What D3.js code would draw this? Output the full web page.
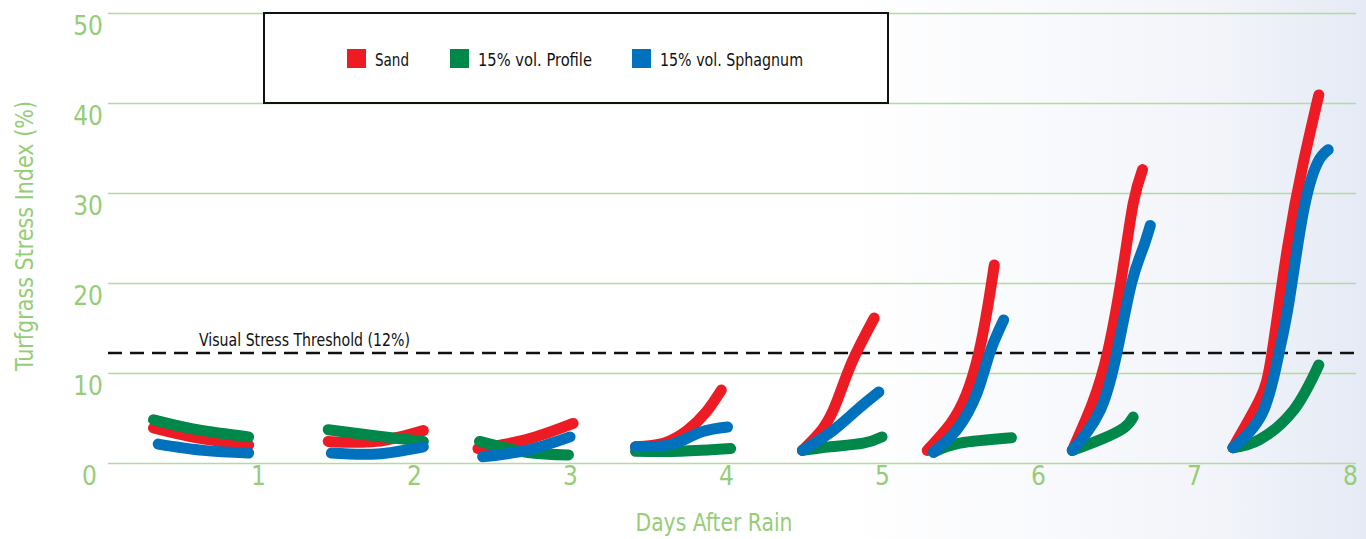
<!DOCTYPE html>
<html><head><meta charset="utf-8">
<script src="https://cdn.jsdelivr.net/npm/d3@7"></script>
<style>
html,body{margin:0;padding:0;background:#fff;}
svg{display:block;}
text{font-family:"Liberation Sans Narrow","DejaVu Sans Condensed","Open Sans",sans-serif;}
</style></head>
<body>
<svg id="chart" width="1366" height="539"></svg>
<script>
// ---- data ----
const seriesNames = ["Sand", "15% vol. Profile", "15% vol. Sphagnum"];
const seriesColors = ["#ed1c24", "#00874a", "#0071bc"];
const xTicks = [1, 2, 3, 4, 5, 6, 7, 8];
const yTicks = [0, 10, 20, 30, 40, 50];
const threshold = 12;
const thresholdLabel = "Visual Stress Threshold (12%)";
const xTitle = "Days After Rain";
const yTitle = "Turfgrass Stress Index (%)";

// each series: one short curve per day, points [day, stress index %]
const sandSegments = [
  [[0.33, 3.9], [0.61, 2.8], [0.94, 2.0]],
  [[1.45, 2.4], [1.76, 2.4], [2.06, 3.6]],
  [[2.41, 1.6], [2.72, 2.6], [3.02, 4.4]],
  [[3.42, 1.8], [3.60, 2.2], [3.75, 3.6], [3.87, 5.6], [3.97, 8.1]],
  [[4.49, 1.4], [4.62, 3.8], [4.71, 6.8], [4.81, 11.3], [4.95, 16.1]],
  [[5.29, 1.4], [5.44, 4.4], [5.54, 7.6], [5.62, 12.2], [5.68, 17.6], [5.72, 22.0]],
  [[6.22, 1.4], [6.35, 6.7], [6.45, 12.6], [6.54, 21.1], [6.61, 28.8], [6.67, 32.6]],
  [[7.25, 1.7], [7.42, 7.0], [7.50, 12.2], [7.60, 24.0], [7.70, 33.3], [7.80, 40.9]]
];
const profileSegments = [
  [[0.33, 4.8], [0.61, 3.7], [0.94, 2.9]],
  [[1.45, 3.7], [1.76, 3.0], [2.06, 2.4]],
  [[2.42, 2.4], [2.72, 1.2], [2.99, 0.9]],
  [[3.42, 1.3], [3.71, 1.3], [4.03, 1.6]],
  [[4.49, 1.4], [4.67, 1.8], [4.88, 2.2], [5.00, 2.9]],
  [[5.33, 1.2], [5.50, 2.2], [5.83, 2.8]],
  [[6.22, 1.4], [6.40, 2.6], [6.55, 3.9], [6.61, 5.1]],
  [[7.25, 1.7], [7.42, 2.6], [7.64, 5.9], [7.80, 10.9]]
];
const sphagnumSegments = [
  [[0.36, 2.1], [0.65, 1.4], [0.94, 1.1]],
  [[1.47, 1.1], [1.76, 1.0], [2.06, 1.8]],
  [[2.44, 0.7], [2.72, 1.4], [3.00, 2.9]],
  [[3.42, 1.8], [3.60, 1.9], [3.72, 2.5], [3.85, 3.5], [4.01, 4.0]],
  [[4.49, 1.4], [4.67, 3.4], [4.84, 5.9], [4.98, 7.9]],
  [[5.33, 1.2], [5.48, 3.7], [5.61, 7.8], [5.69, 12.2], [5.78, 15.9]],
  [[6.22, 1.4], [6.40, 5.9], [6.51, 12.6], [6.60, 20.0], [6.67, 23.7], [6.72, 26.4]],
  [[7.25, 1.7], [7.44, 5.6], [7.54, 11.8], [7.61, 18.0], [7.70, 27.8], [7.79, 33.3], [7.86, 34.8]]
];
const allSegments = [sandSegments, profileSegments, sphagnumSegments];

// ---- drawing ----
const svg = d3.select("#chart");
const W = 1366, H = 539;
const x = d3.scaleLinear().domain([0, 8]).range([102, 1350]);
const y = d3.scaleLinear().domain([0, 50]).range([463, 13]);
const gridLeft = 108, gridRight = 1356;
const green = "#95cd78";

const defs = svg.append("defs");
const bg = defs.append("linearGradient").attr("id", "bg").attr("x1", "0").attr("y1", "0").attr("x2", "1").attr("y2", "0");
bg.append("stop").attr("offset", "0.62").attr("stop-color", "#ffffff");
bg.append("stop").attr("offset", "0.88").attr("stop-color", "#f3f5fa");
bg.append("stop").attr("offset", "1").attr("stop-color", "#e5eaf5");
svg.append("rect").attr("width", W).attr("height", H).attr("fill", "url(#bg)");

// y grid + labels
const yAxis = svg.append("g").attr("transform", `translate(${gridLeft},0)`)
  .call(d3.axisLeft(y).tickValues(yTicks).tickSize(-(gridRight - gridLeft)).tickPadding(5));
yAxis.select(".domain").remove();
yAxis.selectAll(".tick line").attr("stroke", "#b2dc9c").attr("stroke-width", 1.6);
yAxis.selectAll(".tick text")
  .attr("x", d => d === 0 ? -11 : -5)
  .attr("dy", 0).attr("y", 21)
  .attr("fill", green).attr("font-size", 26);

// x labels
const xAxis = svg.append("g").attr("transform", `translate(0,${y(0)})`)
  .call(d3.axisBottom(x).tickValues(xTicks).tickSize(0));
xAxis.select(".domain").remove();
xAxis.selectAll(".tick text").attr("dy", 0).attr("y", 22)
  .attr("fill", green).attr("font-size", 26);

// threshold
svg.append("line")
  .attr("x1", gridLeft).attr("x2", gridRight)
  .attr("y1", y(threshold) - 2).attr("y2", y(threshold) - 2)
  .attr("stroke", "#111").attr("stroke-width", 2.5).attr("stroke-dasharray", "14,8");
svg.append("text").attr("x", 199).attr("y", 346).attr("font-size", 18).attr("fill", "#111")
  .attr("textLength", 211).attr("lengthAdjust", "spacingAndGlyphs").text(thresholdLabel);

// curves
const line = d3.line().x(d => x(d[0])).y(d => y(d[1])).curve(d3.curveNatural);
allSegments.forEach((segs, i) => {
  svg.append("g").selectAll("path").data(segs).join("path")
    .attr("d", line)
    .attr("fill", "none")
    .attr("stroke", seriesColors[i])
    .attr("stroke-width", 11)
    .attr("stroke-linecap", "round")
    .attr("stroke-linejoin", "round");
});

// legend
const lg = svg.append("g");
lg.append("rect").attr("x", 264).attr("y", 13).attr("width", 624).attr("height", 90)
  .attr("fill", "#fff").attr("stroke", "#111").attr("stroke-width", 2);
const legX = [347, 450, 632];
const legW = [34, 114, 143];
seriesNames.forEach((n, i) => {
  lg.append("rect").attr("x", legX[i]).attr("y", 49).attr("width", 19).attr("height", 19).attr("fill", seriesColors[i]);
  lg.append("text").attr("x", legX[i] + 28).attr("y", 66).attr("font-size", 18).attr("fill", "#111")
    .attr("textLength", legW[i]).attr("lengthAdjust", "spacingAndGlyphs").text(n);
});

// axis titles
svg.append("text").attr("x", 714).attr("y", 531).attr("text-anchor", "middle")
  .attr("font-size", 24).attr("fill", green)
  .attr("textLength", 157).attr("lengthAdjust", "spacingAndGlyphs").text(xTitle);
svg.append("text").attr("transform", "translate(33,236) rotate(-90)").attr("text-anchor", "middle")
  .attr("font-size", 24).attr("fill", green)
  .attr("textLength", 270).attr("lengthAdjust", "spacingAndGlyphs").text(yTitle);
</script>
</body></html>
